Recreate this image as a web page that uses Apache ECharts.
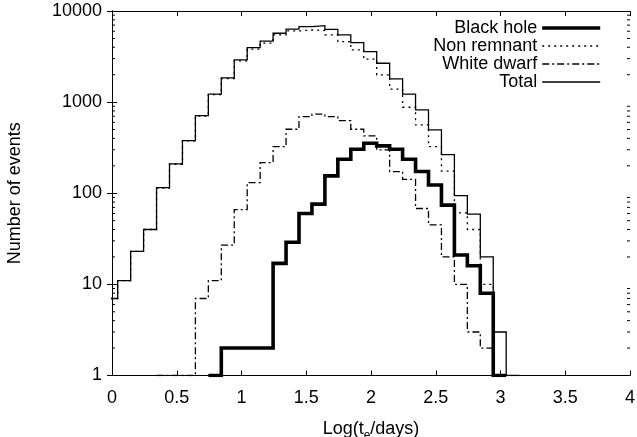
<!DOCTYPE html>
<html><head><meta charset="utf-8">
<script src="https://cdn.jsdelivr.net/npm/echarts@6/dist/echarts.min.js"></script>
<style>html,body{margin:0;padding:0;background:#fff}#c{width:637px;height:437px}</style>
</head><body><div id="c"></div>
<script>
// Bin left edges in Log(t_e/days); last entry is the right edge of the final bin
const binEdges = [-0.056,0.044,0.144,0.244,0.344,0.444,0.544,0.644,0.744,0.844,0.944,1.044,1.144,1.244,1.344,1.444,1.544,1.644,1.744,1.844,1.944,2.044,2.144,2.244,2.344,2.444,2.544,2.644,2.744,2.844,2.944,3.044,3.144];
const blackHole  = [null,null,null,null,null,null,null,null,1,2,2,2,2,17,29,60,76,155,236,304,354,331,304,236,173,123,74,21,16,8,1,null];
const nonRemnant = [7,11,23,40,114,208,376,703,1208,1815,2840,3820,4440,5460,6040,6200,6100,5460,4610,3740,2960,1990,1387,879,562,325,175,61,40,10,1,null];
const whiteDwarf = [null,null,null,null,1,1,1,7,11,27,66,131,217,325,504,693,737,693,627,504,426,299,173,142,68,45,20,10,3,2,1,null];
const total      = [7,11,23,40,115,210,378,711,1222,1844,2904,3963,4660,5700,6310,6740,6900,6300,5460,4500,3580,2670,1800,1222,821,495,265,94,59,20,3,1];
const seriesNames = ['Black hole','Non remnant','White dwarf','Total'];
const xRange = [0, 4];
const xTickStep = 0.5;
const yRange = [1, 10000];
const yTickLabels = ['1','10','100','1000','10000'];

function toSteps(values) {
  const pts = [];
  let last = -1;
  for (let i = 0; i < values.length; i++) {
    if (values[i] != null) { pts.push([binEdges[i], values[i]]); last = i; }
  }
  pts.push([binEdges[last + 1], yRange[0]]);
  return pts;
}

const minorTicks = [];
for (let d = yRange[0]; d < yRange[1]; d *= 10) {
  for (let m = 2; m <= 9; m++) minorTicks.push([xRange[0], m * d]);
}

const FONT = "'Liberation Sans', Arial, Helvetica, sans-serif";
const styles = [
  {width: 3.6, type: 'solid'},
  {width: 1.3, type: [2, 4]},
  {width: 1.3, type: [7, 3, 2, 3]},
  {width: 1.3, type: 'solid'}
];
const dataSets = [blackHole, nonRemnant, whiteDwarf, total];

const chart = echarts.init(document.getElementById('c'), null, {renderer: 'canvas'});
const axisLine = {show: true, lineStyle: {color: '#000', width: 1}};
const option = {
  animation: false,
  backgroundColor: '#fff',
  textStyle: {fontFamily: FONT},
  grid: {left: 112, right: 7, top: 11, bottom: 61.5, containLabel: false, outerBoundsMode: 'none'},
  legend: {
    data: seriesNames.map((name, i) => ({name, lineStyle: {width: styles[i].width, type: styles[i].type, color: '#000'}})),
    orient: 'vertical', right: 30, top: 14, align: 'right',
    itemWidth: 58, itemHeight: 14, itemGap: 0, selectedMode: false,
    itemStyle: {opacity: 0},
    lineStyle: {width: 'inherit', type: 'inherit', color: '#000'},
    textStyle: {fontSize: 18, fontFamily: FONT, color: '#000', lineHeight: 18}
  },
  xAxis: [
    {type: 'value', min: xRange[0], max: xRange[1], interval: xTickStep, position: 'bottom',
     axisLine, splitLine: {show: false},
     axisTick: {inside: true, length: 5, lineStyle: {color: '#000'}},
     axisLabel: {fontSize: 18, color: '#000', margin: 14, fontFamily: FONT},
     name: 'Log(t{s|e}/days)', nameLocation: 'middle', nameGap: 42,
     nameTextStyle: {fontSize: 18, color: '#000', fontFamily: FONT,
       rich: {s: {fontSize: 12, fontFamily: FONT, color: '#000', padding: [12, 0, 0, 0]}}}},
    {type: 'value', min: xRange[0], max: xRange[1], interval: xTickStep, position: 'top',
     axisLine, splitLine: {show: false},
     axisTick: {inside: true, length: 5, lineStyle: {color: '#000'}},
     axisLabel: {show: false}}
  ],
  yAxis: [
    {type: 'log', logBase: 10, min: yRange[0], max: yRange[1], position: 'left',
     axisLine, splitLine: {show: false},
     axisTick: {inside: true, length: 5, lineStyle: {color: '#000'}},
     axisLabel: {fontSize: 18, color: '#000', margin: 10, fontFamily: FONT,
       formatter: v => yTickLabels[Math.round(Math.log10(v))] || ''},
     name: 'Number of events', nameLocation: 'middle', nameGap: 88,
     nameTextStyle: {fontSize: 18, color: '#000', fontFamily: FONT}},
    {type: 'log', logBase: 10, min: yRange[0], max: yRange[1], position: 'right',
     axisLine, splitLine: {show: false},
     axisTick: {inside: true, length: 5, lineStyle: {color: '#000'}},
     axisLabel: {show: false}}
  ],
  series: seriesNames.map((name, i) => ({
    type: 'line', name, step: 'end', symbol: 'none', showSymbol: false,
    data: toSteps(dataSets[i]), clip: true, z: 3 + i,
    itemStyle: {color: '#000'},
    lineStyle: {color: '#000', width: styles[i].width, type: styles[i].type, cap: 'butt', join: 'miter'}
  })).concat([{
    type: 'custom', name: 'minor', silent: true, z: 10, clip: false,
    data: minorTicks,
    renderItem: (params, api) => {
      const v = api.value(1);
      const l = api.coord([xRange[0], v]);
      const r = api.coord([xRange[1], v]);
      return {type: 'group', children: [
        {type: 'line', shape: {x1: l[0], y1: l[1], x2: l[0] + 3, y2: l[1]}, style: {stroke: '#000', lineWidth: 1}},
        {type: 'line', shape: {x1: r[0] - 3, y1: r[1], x2: r[0], y2: r[1]}, style: {stroke: '#000', lineWidth: 1}}
      ]};
    }
  }])
};
chart.setOption(option);
</script>
</body></html>
